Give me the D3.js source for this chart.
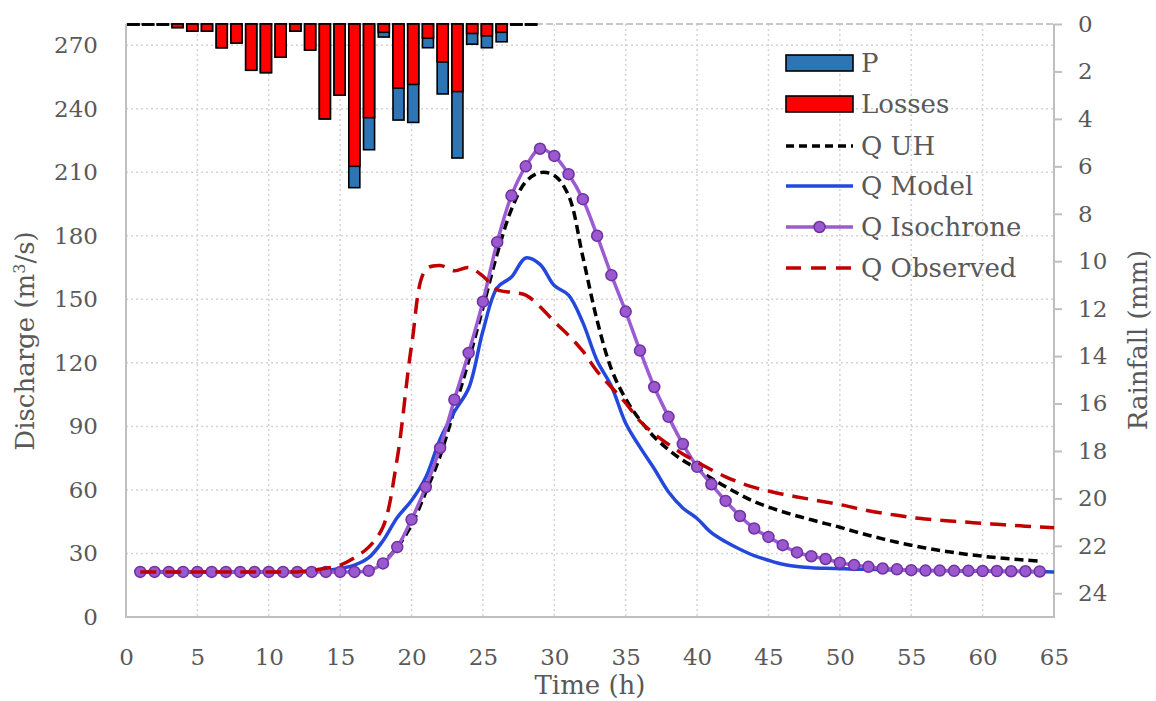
<!DOCTYPE html>
<meta charset="utf-8">
<html>
<head>
    <style>
        body { margin: 0; background: #fff; }
        text { font-family: "DejaVu Serif", serif; fill: #595959; }
        .tick text { font-family: "DejaVu Serif", serif; font-size: 23px; fill: #595959; }
        .grid line { stroke: #d4d4d4; stroke-width: 1.5px; stroke-dasharray: 2,3; }
        .frame { stroke: #bfbfbf; stroke-width: 2px; fill: none; }
        .legend text { font-size: 26px; }
    </style>
    <script src="https://d3js.org/d3.v7.min.js"></script>
</head>
<body>
<svg id="svg" width="1156" height="701"></svg>
<script>

    // rainfall bars, hours 1..28 on a 63 slot category axis (mm)
    var rainP = [0, 0, 0, 0.15, 0.3, 0.3, 1.0, 0.8, 1.95, 2.05, 1.4, 0.3, 1.1, 4.0,
        3.0, 6.9, 5.3, 0.55, 4.05, 4.15, 1.0, 2.95, 5.65, 0.85, 1.0, 0.75, 0, 0];
    var rainLoss = [0, 0, 0, 0.15, 0.3, 0.3, 1.0, 0.8, 1.95, 2.05, 1.4, 0.3, 1.1, 4.0,
        3.0, 6.0, 3.95, 0.35, 2.7, 2.55, 0.6, 1.6, 2.85, 0.4, 0.5, 0.35, 0, 0];
    var barSlots = 63;

    // discharge series, first value is hour 1 (m3/s)
    var qUH = [21.3, 21.3, 21.3, 21.3, 21.3, 21.3, 21.3, 21.3, 21.3, 21.3, 21.3, 21.3, 21.3, 21.3, 21.3, 21.3,
        22.5, 26, 33, 43.5, 59, 76, 98, 121, 146, 171.5, 192.5, 205.5, 209.8, 208.5, 199, 170, 140,
        117, 103, 93, 85, 79, 74, 70, 65.5, 61.5, 57.8, 54.5, 51.9, 49.7, 47.7, 45.9, 44.1, 42.4, 40.4,
        38.6, 36.9, 35.3, 33.9, 32.6, 31.4, 30.4, 29.5, 28.7, 28, 27.4, 26.9, 26.4];
    var qModel = [21.3, 21.3, 21.3, 21.3, 21.3, 21.3, 21.3, 21.3, 21.3, 21.3, 21.3, 21.3, 21.5, 22, 22.9,
        24.5, 28, 36, 47, 55, 66, 84, 97, 108, 135, 155.5, 160.5, 169.5, 166.5, 156.5, 152, 139, 121,
        109, 91.5, 80.2, 70, 59, 51.5, 46.5, 39.8, 35.5, 32, 29, 26.8, 24.9, 23.8, 23.3, 23, 22.8,
        22.6, 22.5, 22.3, 22.2, 22.1, 22, 21.9, 21.8, 21.7, 21.6, 21.5, 21.5, 21.4, 21.4, 21.3];
    var qIso = [21.3, 21.3, 21.3, 21.3, 21.3, 21.3, 21.3, 21.3, 21.3, 21.3, 21.3, 21.3, 21.3, 21.3, 21.3, 21.3,
        21.8, 25.3, 33, 46, 61.4, 79.8, 102.6, 124.7, 148.9, 177, 199, 212.8, 221.1, 217.7, 209.1,
        197.3, 180, 161.4, 144.2, 125.8, 108.6, 94.5, 81.7, 70.9, 62.7, 54.8, 47.7, 41.8, 37.8, 33.9,
        30.5, 28.7, 27.4, 25.6, 24.5, 23.7, 22.9, 22.5, 22.1, 21.9, 21.9, 21.8, 21.8, 21.7, 21.7,
        21.6, 21.6, 21.5];
    var qObs = [21.3, 21.3, 21.3, 21.3, 21.3, 21.3, 21.3, 21.3, 21.3, 21.3, 21.3, 21.3, 22, 23, 24.5,
        28, 33, 42.5, 75, 128, 164, 166, 163.5, 165, 161, 154.5, 153.3, 152, 146.5, 139.5, 133,
        125.5, 116, 108.5, 101, 92.5, 86.5, 81.5, 77, 73.2, 69.5, 66.2, 63.4, 61.2, 59.5, 58, 56.7,
        55.5, 54.3, 53.1, 51.6, 50.2, 49, 48, 47, 46.3, 45.7, 45.2, 44.7, 44.2, 43.8, 43.3, 42.9,
        42.5, 42.1];

    var xTicks = [0, 5, 10, 15, 20, 25, 30, 35, 40, 45, 50, 55, 60, 65];
    var qTicks = [0, 30, 60, 90, 120, 150, 180, 210, 240, 270];
    var rTicks = [0, 2, 4, 6, 8, 10, 12, 14, 16, 18, 20, 22, 24];

    var svg = d3.select("svg"),
        pL = 126, pR = 1054, pT = 24, pB = 617;

    var x = d3.scaleLinear().domain([0, 65]).range([pL, pR]);
    var y = d3.scaleLinear().domain([0, 280]).range([pB, pT]);
    var yR = d3.scaleLinear().domain([0, 25]).range([pT, pB]);
    var xb = d3.scaleBand().domain(d3.range(1, barSlots + 1)).range([pL, pR])
        .paddingInner(0.25).paddingOuter(0.125);

    // grid
    var grid = svg.append("g").attr("class", "grid");
    grid.selectAll(".gv").data(xTicks.slice(1, -1)).enter().append("line")
        .attr("x1", x).attr("x2", x).attr("y1", pT).attr("y2", pB);
    grid.selectAll(".gh").data(qTicks.slice(1)).enter().append("line")
        .attr("x1", pL).attr("x2", pR).attr("y1", y).attr("y2", y);
    svg.append("line").attr("x1", pL).attr("x2", pR).attr("y1", y(280)).attr("y2", y(280))
        .style("stroke", "#c8c8c8").style("stroke-width", 2).style("stroke-dasharray", "7,3");

    svg.append("path").attr("class", "frame")
        .attr("d", "M" + pL + "," + pT + "V" + pB + "H" + pR + "V" + pT);

    // axes
    var gx = svg.append("g").attr("transform", "translate(0," + pB + ")")
        .call(d3.axisBottom(x).tickValues(xTicks).tickSize(0).tickPadding(32));
    var gy = svg.append("g").attr("transform", "translate(" + pL + ",0)")
        .call(d3.axisLeft(y).tickValues(qTicks).tickSize(0).tickPadding(28));
    var gr = svg.append("g").attr("transform", "translate(" + pR + ",0)")
        .call(d3.axisRight(yR).tickValues(rTicks).tickSize(8).tickPadding(16));
    [gx, gy, gr].forEach(function (g) {
        g.select(".domain").remove();
        g.selectAll(".tick line").style("stroke", "#bfbfbf").style("stroke-width", 2);
    });

    svg.append("text").attr("x", x(32.5)).attr("y", 694).attr("text-anchor", "middle")
        .style("font-size", "26px").text("Time (h)");
    var lt = svg.append("text").attr("transform", "translate(34,341) rotate(-90)")
        .attr("text-anchor", "middle").style("font-size", "26px");
    lt.append("tspan").text("Discharge (m");
    lt.append("tspan").attr("dy", -9).style("font-size", "16px").text("3");
    lt.append("tspan").attr("dy", 9).text("/s)");
    svg.append("text").attr("transform", "translate(1147,340) rotate(-90)")
        .attr("text-anchor", "middle").style("font-size", "26px").text("Rainfall (mm)");

    // bars: P in blue, losses overlaid in red (zero bars still show their outline)
    var bars = rainP.map(function (p, i) { return {slot: i + 1, p: p, loss: rainLoss[i]}; });
    function barH(v) { return Math.max(yR(v) - yR(0), 1); }
    svg.append("g").selectAll("rect").data(bars).enter().append("rect")
        .attr("x", function (d) { return xb(d.slot); })
        .attr("width", xb.bandwidth())
        .attr("y", yR(0))
        .attr("height", function (d) { return barH(d.p); })
        .style("fill", "#2e75b6").style("stroke", "#000").style("stroke-width", 1.6);
    svg.append("g").selectAll("rect").data(bars).enter().append("rect")
        .attr("x", function (d) { return xb(d.slot); })
        .attr("width", xb.bandwidth())
        .attr("y", yR(0))
        .attr("height", function (d) { return barH(d.loss); })
        .style("fill", "#ff0000").style("stroke", "#000").style("stroke-width", 1.6);

    // lines
    var line = d3.line()
        .x(function (d, i) { return x(i + 1); })
        .y(function (d) { return y(d); })
        .curve(d3.curveCatmullRom.alpha(0.5));

    svg.append("path").datum(qUH).attr("d", line)
        .style("fill", "none").style("stroke", "#000").style("stroke-width", 3.5)
        .style("stroke-dasharray", "9,5");
    svg.append("path").datum(qModel).attr("d", line)
        .style("fill", "none").style("stroke", "#2448dc").style("stroke-width", 3.5);
    svg.append("path").datum(qIso).attr("d", line)
        .style("fill", "none").style("stroke", "#9b5bd2").style("stroke-width", 3.5);
    svg.append("g").selectAll("circle").data(qIso).enter().append("circle")
        .attr("cx", function (d, i) { return x(i + 1); })
        .attr("cy", function (d) { return y(d); })
        .attr("r", 5.5)
        .style("fill", "#9b59d0").style("stroke", "#7030a0").style("stroke-width", 1.5);
    svg.append("path").datum(qObs).attr("d", line)
        .style("fill", "none").style("stroke", "#c00000").style("stroke-width", 3.5)
        .style("stroke-dasharray", "16,9");

    // legend
    var lg = svg.append("g").attr("class", "legend");
    var lx = 786, lw = 67, tx = 861;
    var rows = [
        {name: "P", cy: 63, kind: "bar", color: "#2e75b6"},
        {name: "Losses", cy: 104, kind: "bar", color: "#ff0000"},
        {name: "Q UH", cy: 146, kind: "line", color: "#000", dash: "8,5"},
        {name: "Q Model", cy: 186, kind: "line", color: "#2448dc"},
        {name: "Q Isochrone", cy: 227, kind: "dot", color: "#9b5bd2"},
        {name: "Q Observed", cy: 268, kind: "line", color: "#c00000", dash: "15,10"}
    ];
    rows.forEach(function (r) {
        if (r.kind === "bar") {
            lg.append("rect").attr("x", lx).attr("y", r.cy - 8).attr("width", lw).attr("height", 16)
                .style("fill", r.color).style("stroke", "#000").style("stroke-width", 1.6);
        } else {
            lg.append("line").attr("x1", lx).attr("x2", lx + lw).attr("y1", r.cy).attr("y2", r.cy)
                .style("stroke", r.color).style("stroke-width", 3.5)
                .style("stroke-dasharray", r.dash || null);
            if (r.kind === "dot") {
                lg.append("circle").attr("cx", lx + lw / 2).attr("cy", r.cy).attr("r", 5.5)
                    .style("fill", "#9b59d0").style("stroke", "#7030a0").style("stroke-width", 1.5);
            }
        }
        lg.append("text").attr("x", tx).attr("y", r.cy + 9).text(r.name);
    });

</script>
</body>
</html>
